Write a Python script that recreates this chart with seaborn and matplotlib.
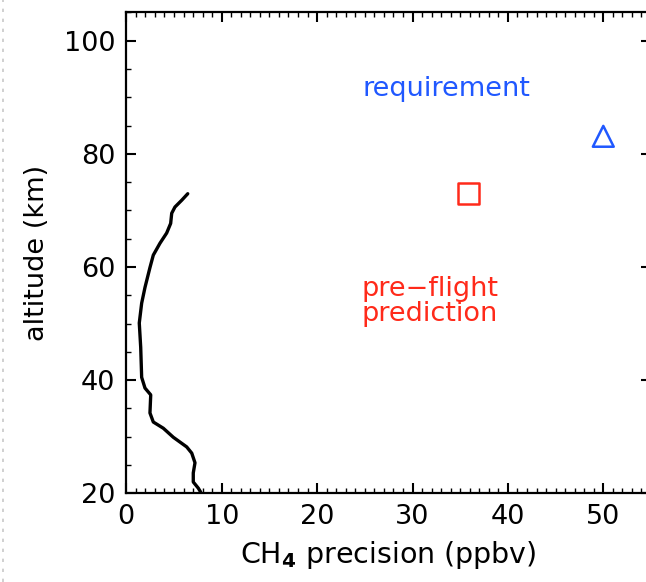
import matplotlib
matplotlib.use("Agg")
import matplotlib.pyplot as plt
from matplotlib.lines import Line2D
from matplotlib.ticker import MultipleLocator
import seaborn as sns
import pandas as pd

# CH4 precision profile (ppbv) versus altitude (km)
precision = [6.44, 5.81, 5.10, 4.76, 4.65, 4.23, 3.53, 2.83, 2.48, 1.96, 1.61,
             1.36, 1.51, 1.61, 1.96, 2.56, 2.48, 2.83, 3.88, 4.93, 6.33, 6.86,
             7.20, 7.02, 7.02, 7.55, 7.80]
altitude = [72.95, 71.8, 70.6, 69.5, 67.7, 66.0, 64.2, 62.1, 59.9, 56.4, 53.6,
            50.1, 45.8, 40.5, 38.6, 37.4, 34.2, 32.6, 31.5, 29.9, 28.2, 27.1,
            25.4, 23.6, 22.0, 20.9, 20.2]

# Reference points
prediction_x, prediction_y = [35.85], [73.05]
requirement_x, requirement_y = [50.0], [83.1]

blue = "#2058ff"
red = "#ff2a1a"

sns.set_theme(style="white")
plt.rcParams["font.family"] = ["DejaVu Sans"]

fig = plt.figure(figsize=(6.46, 5.82), dpi=100)
ax = fig.add_axes([126.3 / 646, 1 - 493.3 / 582, (55 * 9.54) / 646, (493.3 - 12.4) / 582])

profile = pd.DataFrame({"precision": precision, "altitude": altitude})
sns.lineplot(data=profile, x="precision", y="altitude", sort=False,
             estimator=None, color="black", linewidth=2.4, ax=ax)

sns.scatterplot(x=prediction_x, y=prediction_y, marker="s", s=225,
                facecolors="none", edgecolors=red, linewidths=1.8, ax=ax)
sns.scatterplot(x=requirement_x, y=requirement_y, marker="^", s=225,
                facecolors="none", edgecolors=blue, linewidths=1.8, ax=ax)

ax.text(24.8, 91.5, "requirement", color=blue, fontsize=19.5,
        ha="left", va="center")
ax.text(24.7, 53.9, "pre\u2212flight\nprediction", color=red, fontsize=19.5,
        ha="left", va="center", linespacing=0.95)

ax.set_xlim(0, 55)
ax.set_ylim(20, 105)
ax.xaxis.set_major_locator(MultipleLocator(10))
ax.xaxis.set_minor_locator(MultipleLocator(1))
ax.yaxis.set_major_locator(MultipleLocator(20))
ax.yaxis.set_minor_locator(MultipleLocator(5))

ax.tick_params(which="both", direction="in", top=True, right=True,
               bottom=True, left=True, colors="black", labelsize=19.5)
ax.tick_params(which="major", length=7, width=1.5, pad=8)
ax.tick_params(which="minor", length=3.5, width=1.0)

for spine in ax.spines.values():
    spine.set_color("black")
    spine.set_linewidth(1.6)

ax.set_xlabel("CH$_\\mathbf{4}$ precision (ppbv)", fontsize=20.5,
              labelpad=6, color="black")
ax.set_ylabel("altitude (km)", fontsize=19.5, labelpad=10, color="black")
ax.grid(False)

# faint dotted page edge on the left
fig.add_artist(Line2D([3 / 646, 3 / 646], [0, 1], transform=fig.transFigure,
                      color="#c8c8c8", linestyle=(0, (2, 4)), linewidth=1.2))

fig.savefig("out.png", dpi=100)
